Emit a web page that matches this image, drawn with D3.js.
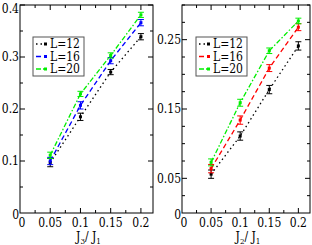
<!DOCTYPE html>
<html>
<head>
<meta charset="utf-8">
<script src="https://cdnjs.cloudflare.com/ajax/libs/d3/7.8.5/d3.min.js"></script>
<style>
  body { margin: 0; background: #fff; }
  svg { display: block; }
  svg text { font-family: "DejaVu Serif Condensed", "DejaVu Serif", serif; font-stretch: condensed; }
</style>
</head>
<body>
<svg id="chart" width="312" height="245"></svg>
<script>
var xVals = [0.05, 0.1, 0.15, 0.2];
var sizes = ["L=12", "L=16", "L=20"];

// left panel: J3/J1
var leftL12 = [0.097, 0.185, 0.271, 0.339];
var leftL16 = [0.100, 0.207, 0.293, 0.366];
var leftL20 = [0.111, 0.229, 0.303, 0.381];
var leftErr12 = [0.008, 0.007, 0.005, 0.006];
var leftErr16 = [0.007, 0.007, 0.006, 0.006];
var leftErr20 = [0.006, 0.005, 0.005, 0.005];

// right panel: J2/J1
var rightL12 = [0.056, 0.111, 0.178, 0.241];
var rightL16 = [0.064, 0.134, 0.209, 0.268];
var rightL20 = [0.073, 0.159, 0.234, 0.277];
var rightErr12 = [0.006, 0.006, 0.006, 0.006];
var rightErr16 = [0.006, 0.006, 0.005, 0.005];
var rightErr20 = [0.005, 0.005, 0.004, 0.004];

var FS = 12;
var svg = d3.select("#chart");

function drawPanel(p) {
  var x = d3.scaleLinear().domain([0, 0.22]).range([p.x0, p.x1]);
  var y = d3.scaleLinear().domain([0, p.ymax]).range([p.y1, p.y0]);
  var g = svg.append("g");

  // frame
  g.append("rect")
      .attr("x", p.x0).attr("y", p.y0)
      .attr("width", p.x1 - p.x0).attr("height", p.y1 - p.y0)
      .attr("fill", "none").attr("stroke", "#000").attr("stroke-width", 1);

  // x ticks (bottom + top, inward)
  var xt = d3.range(0.025, 0.22, 0.025);
  xt.forEach(function(v) {
    var major = Math.abs(Math.round(v / 0.05) * 0.05 - v) < 1e-6;
    var len = major ? 5 : 3;
    g.append("line").attr("x1", x(v)).attr("x2", x(v))
        .attr("y1", p.y1).attr("y2", p.y1 - len).attr("stroke", "#000");
    g.append("line").attr("x1", x(v)).attr("x2", x(v))
        .attr("y1", p.y0).attr("y2", p.y0 + len).attr("stroke", "#000");
  });
  var xl = [0, 0.05, 0.1, 0.15, 0.2];
  g.selectAll(".xl").data(xl).enter().append("text")
      .attr("x", function(d) { return x(d) + (d === 0 ? 2 : 0); })
      .attr("y", 227)
      .attr("text-anchor", "middle")
      .attr("font-size", FS)
      .text(function(d) { return d === 0 ? "0" : String(d); });

  // y ticks (left + right, inward)
  p.yTicks.forEach(function(v) {
    var major = p.yLabels.indexOf(v) >= 0;
    var len = major ? 5 : 3;
    g.append("line").attr("x1", p.x0).attr("x2", p.x0 + len)
        .attr("y1", y(v)).attr("y2", y(v)).attr("stroke", "#000");
    g.append("line").attr("x1", p.x1).attr("x2", p.x1 - len)
        .attr("y1", y(v)).attr("y2", y(v)).attr("stroke", "#000");
  });
  g.selectAll(".yl").data(p.yLabels.concat([0])).enter().append("text")
      .attr("x", p.x0 - 1)
      .attr("y", function(d) { return Math.max(y(d) + (d === 0 ? 2 : 0), 9); })
      .attr("dy", "0.35em")
      .attr("text-anchor", "end")
      .attr("font-size", FS)
      .text(function(d) { return d === 0 ? "0" : String(d); });

  // axis title J_n / J_1
  var t = g.append("text")
      .attr("x", (p.x0 + p.x1) / 2 + 2)
      .attr("y", 241)
      .attr("text-anchor", "middle")
      .attr("font-size", FS);
  t.append("tspan").text("J");
  t.append("tspan").attr("font-size", 8).attr("dy", 3).text(p.sub);
  t.append("tspan").attr("dy", -3).text("/ J");
  t.append("tspan").attr("font-size", 8).attr("dy", 3).text("1");

  // series
  var line = d3.line()
      .x(function(d) { return x(d.x); })
      .y(function(d) { return y(d.y); });

  p.series.forEach(function(s) {
    var pts = xVals.map(function(v, i) { return { x: v, y: s.vals[i], e: s.err[i] }; });
    g.append("path")
        .datum(pts)
        .attr("d", line)
        .attr("fill", "none")
        .attr("stroke", s.color)
        .attr("stroke-width", 1.3)
        .attr("stroke-dasharray", s.dash);
    pts.forEach(function(d) {
      var cx = x(d.x);
      g.append("line").attr("x1", cx).attr("x2", cx)
          .attr("y1", y(d.y - d.e)).attr("y2", y(d.y + d.e))
          .attr("stroke", s.color).attr("stroke-width", 1);
      [d.y - d.e, d.y + d.e].forEach(function(v) {
        g.append("line").attr("x1", cx - 3).attr("x2", cx + 3)
            .attr("y1", y(v)).attr("y2", y(v))
            .attr("stroke", s.color).attr("stroke-width", 1);
      });
      g.append("rect")
          .attr("x", cx - 1.5).attr("y", y(d.y) - 1.5)
          .attr("width", 3).attr("height", 3)
          .attr("fill", s.color);
    });
  });

  // legend
  var lg = g.append("g");
  lg.append("rect")
      .attr("x", p.legX).attr("y", 37)
      .attr("width", 51).attr("height", 39)
      .attr("fill", "#fff").attr("stroke", "#555").attr("stroke-width", 1);
  p.series.forEach(function(s, i) {
    var ly = 44 + i * 12.5;
    lg.append("line")
        .attr("x1", p.legX + 3).attr("x2", p.legX + 14)
        .attr("y1", ly).attr("y2", ly)
        .attr("stroke", s.color).attr("stroke-width", 1.3)
        .attr("stroke-dasharray", s.dash);
    lg.append("rect")
        .attr("x", p.legX + 11).attr("y", ly - 1.5)
        .attr("width", 3).attr("height", 3).attr("fill", s.color);
    lg.append("text")
        .attr("x", p.legX + 17).attr("y", ly)
        .attr("dy", "0.35em")
        .attr("font-size", FS)
        .text(sizes[i]);
  });
}

drawPanel({
  x0: 20, x1: 153, y0: 5, y1: 213, ymax: 0.4,
  yTicks: d3.range(0.05, 0.4001, 0.05).map(function(v) { return +v.toFixed(3); }),
  yLabels: [0.1, 0.2, 0.3, 0.4],
  sub: "3",
  legX: 33,
  series: [
    { vals: leftL12, err: leftErr12, color: "#000000", dash: "1.5,3" },
    { vals: leftL16, err: leftErr16, color: "#0000ff", dash: "5,3" },
    { vals: leftL20, err: leftErr20, color: "#00ee00", dash: "5,2,1.5,2" }
  ]
});

drawPanel({
  x0: 182, x1: 310, y0: 5, y1: 213, ymax: 0.3,
  yTicks: d3.range(0.025, 0.3001, 0.025).map(function(v) { return +v.toFixed(3); }),
  yLabels: [0.05, 0.15, 0.25],
  sub: "2",
  legX: 196,
  series: [
    { vals: rightL12, err: rightErr12, color: "#000000", dash: "1.5,3" },
    { vals: rightL16, err: rightErr16, color: "#ff0000", dash: "5,3" },
    { vals: rightL20, err: rightErr20, color: "#00ee00", dash: "5,2,1.5,2" }
  ]
});
</script>
</body>
</html>
